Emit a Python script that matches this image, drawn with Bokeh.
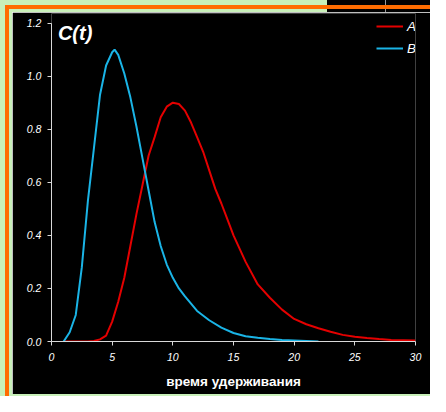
from bokeh.plotting import figure
from bokeh.models import Div, Legend, LegendItem, Label, FixedTicker, NumeralTickFormatter, Range1d
from bokeh.layouts import column, row
from bokeh.embed import file_html
from bokeh.resources import INLINE

# ---- data ----
t_a = [1, 2, 3, 3.5, 4, 4.5, 5, 5.5, 6, 6.5, 7, 7.5, 8, 8.5, 9, 9.5, 10, 10.5, 11, 11.5,
       12, 12.5, 13, 13.5, 14, 14.5, 15, 16, 17, 18, 19, 20, 21, 22, 23, 24, 25, 26, 27, 28, 29, 30]
c_a = [0, 0, 0, 0.002, 0.008, 0.022, 0.075, 0.15, 0.24, 0.36, 0.48, 0.59, 0.70, 0.77, 0.845, 0.885,
       0.90, 0.895, 0.87, 0.825, 0.77, 0.715, 0.645, 0.575, 0.52, 0.46, 0.40, 0.30, 0.215, 0.165,
       0.12, 0.085, 0.065, 0.05, 0.037, 0.025, 0.018, 0.013, 0.009, 0.006, 0.005, 0.004]

t_b = [1, 1.5, 2, 2.5, 3, 3.5, 4, 4.5, 5, 5.2, 5.5, 6, 6.5, 7, 7.5, 8, 8.5, 9, 9.5, 10, 10.5,
       11, 12, 13, 14, 15, 16, 17, 18, 19, 20, 21, 22]
c_b = [0, 0.035, 0.10, 0.28, 0.53, 0.73, 0.93, 1.04, 1.09, 1.10, 1.08, 1.01, 0.92, 0.81, 0.69,
       0.57, 0.45, 0.36, 0.29, 0.24, 0.20, 0.17, 0.115, 0.08, 0.052, 0.032, 0.02, 0.014, 0.009,
       0.006, 0.004, 0.002, 0.0]

x_ticks = [0, 5, 10, 15, 20, 25, 30]
y_ticks = [0, 0.2, 0.4, 0.6, 0.8, 1.0, 1.2]
series_names = ["A", "B"]
x_title = "время удерживания"
y_title = "C(t)"

GREEN = "#c8f0b9"
ORANGE = "#ff6c00"
RED = "#e40000"
BLUE = "#1ab4e6"
AXIS = "#d8d8d8"
FONT = "Liberation Sans"

p = figure(width=418, height=382, output_backend="svg", toolbar_location=None,
           x_range=Range1d(0, 30), y_range=Range1d(0, 1.236),
           background_fill_color="black", border_fill_color="black",
           min_border_left=39, min_border_right=15, min_border_top=1, min_border_bottom=53)
p.outline_line_color = None
p.grid.visible = False

ra = p.line(t_a, c_a, line_color=RED, line_width=2)
rb = p.line(t_b, c_b, line_color=BLUE, line_width=2)

for ax in (p.xaxis[0], p.yaxis[0]):
    ax.axis_line_color = AXIS
    ax.major_tick_line_color = AXIS
    ax.minor_tick_line_color = None
    ax.major_tick_in = 0
    ax.major_tick_out = 4
    ax.major_label_text_color = "white"
    ax.major_label_text_font = FONT
    ax.major_label_text_font_style = "italic"
    ax.major_label_text_font_size = "10.6px"

p.xaxis.ticker = FixedTicker(ticks=x_ticks)
p.yaxis.ticker = FixedTicker(ticks=y_ticks)
p.yaxis.bounds = (0, 1.2)
p.yaxis.formatter = NumeralTickFormatter(format="0.0")
p.xaxis.major_label_standoff = 7
p.yaxis.major_label_standoff = 6
p.xaxis.axis_label = x_title
p.xaxis.axis_label_text_color = "white"
p.xaxis.axis_label_text_font = FONT
p.xaxis.axis_label_text_font_style = "bold"
p.xaxis.axis_label_text_font_size = "13.5px"
p.xaxis.axis_label_standoff = 10

lab = Label(x=0.53, y=1.164, text=y_title, text_color="white", text_font=FONT,
            text_font_style="bold italic", text_font_size="20px", text_baseline="middle")
p.add_layout(lab)

legend = Legend(items=[LegendItem(label=series_names[0], renderers=[ra]),
                       LegendItem(label=series_names[1], renderers=[rb])],
                location=(325, 285), background_fill_alpha=0, border_line_color=None,
                label_text_color="white", label_text_font=FONT, label_text_font_style="italic",
                label_text_font_size="13.5px", glyph_width=27, glyph_height=16, label_height=16,
                label_standoff=4, spacing=6, padding=0, margin=0)
p.add_layout(legend)

top = Div(text="", width=430, height=12, margin=0, styles={
    "background": (f"linear-gradient({ORANGE},{ORANGE}) 5px 5px / 425px 4px no-repeat, "
                   f"linear-gradient({ORANGE},{ORANGE}) 5px 5px / 4px 7px no-repeat, "
                   f"linear-gradient(#9a9a9a,#9a9a9a) 385px 0 / 1px 100% no-repeat, "
                   f"linear-gradient(to right, {GREEN} 327px, #000000 327px)")})
left = Div(text="", width=12, height=382, margin=0, styles={
    "background": f"linear-gradient(to right, {GREEN} 5px, {ORANGE} 5px, {ORANGE} 9px, {GREEN} 9px)"})
bottom = Div(text="", width=430, height=2, margin=0, styles={
    "background": f"linear-gradient(to right, {GREEN} 5px, {ORANGE} 5px, {ORANGE} 9px, {GREEN} 9px)"})

layout = column(top, row(left, p, spacing=0, margin=0), bottom, spacing=0, margin=0)

open("out.html", "w").write(file_html(layout, INLINE))
